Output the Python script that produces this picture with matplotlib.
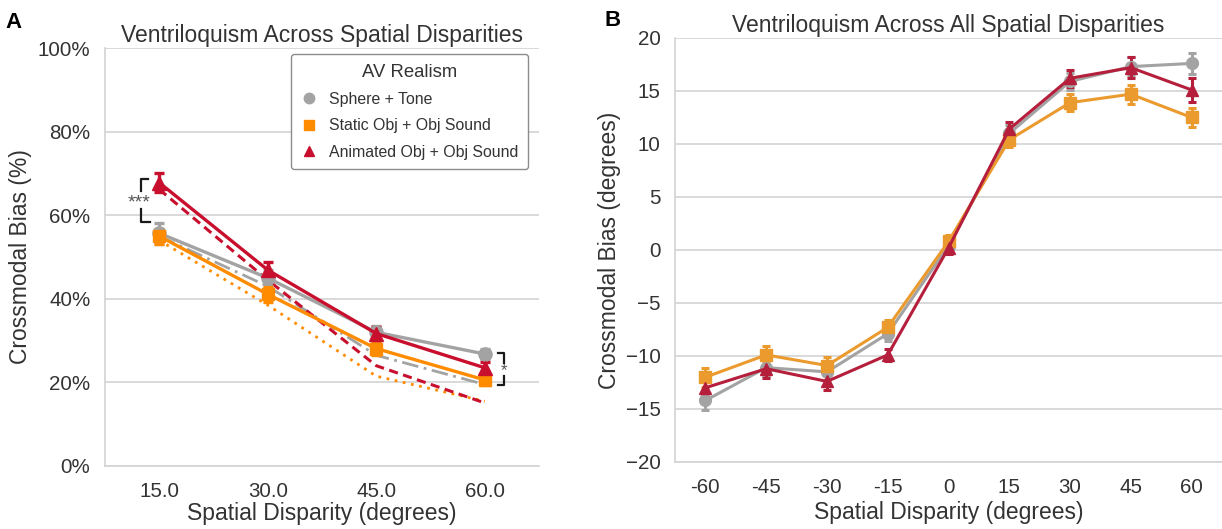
import matplotlib
matplotlib.use("Agg")
import matplotlib.pyplot as plt
from matplotlib.lines import Line2D

plt.rcParams['font.family'] = ['Liberation Sans', 'DejaVu Sans']
plt.rcParams['text.color'] = '#333333'
plt.rcParams['axes.labelcolor'] = '#333333'
plt.rcParams['xtick.color'] = '#333333'
plt.rcParams['ytick.color'] = '#333333'

# ---- panel A: bias (%) at the four absolute disparities
disp_a = [15.0, 30.0, 45.0, 60.0]
tick_labels_a = ['15.0', '30.0', '45.0', '60.0']
sphere_a = [55.7, 45.0, 32.0, 26.8]
static_a = [55.0, 41.1, 28.1, 20.6]
animated_a = [67.8, 46.9, 31.7, 23.5]
sphere_err_a = [2.5, 2.0, 1.5, 1.2]
static_err_a = [1.8, 1.8, 1.5, 1.2]
animated_err_a = [2.2, 2.0, 1.6, 1.5]
# model predictions (broken lines)
sphere_model_a = [55.0, 43.0, 26.5, 19.5]
static_model_a = [54.0, 38.5, 21.5, 15.5]
animated_model_a = [66.2, 44.5, 24.0, 15.1]

# significance brackets: (x, y_top, y_bottom, label)
sig_left = (12.5, 68.7, 58.4, '***')
sig_right = (62.7, 27.0, 19.4, '*')

# ---- panel B: bias (degrees) at all signed disparities
disp_b = [-60, -45, -30, -15, 0, 15, 30, 45, 60]
tick_labels_b = ['-60', '-45', '-30', '-15', '0', '15', '30', '45', '60']
sphere_b = [-14.2, -11.1, -11.5, -7.9, 0.4, 11.0, 15.9, 17.3, 17.6]
static_b = [-12.0, -9.9, -10.9, -7.3, 0.8, 10.4, 13.9, 14.7, 12.5]
animated_b = [-13.0, -11.2, -12.4, -9.9, 0.2, 11.4, 16.2, 17.2, 15.1]
sphere_err_b = [0.9, 0.8, 0.8, 0.7, 0.6, 0.8, 0.8, 0.9, 1.0]
static_err_b = [0.9, 0.8, 0.8, 0.7, 0.6, 0.7, 0.8, 0.9, 0.9]
animated_err_b = [0.9, 0.9, 0.8, 0.6, 0.6, 0.7, 0.8, 1.0, 1.1]

labels = ['Sphere + Tone', 'Static Obj + Obj Sound', 'Animated Obj + Obj Sound']
markers = ['o', 's', '^']
colors_a = ['#a3a3a3', '#ff8c00', '#c8102e']
colors_b = ['#a3a3a3', '#eb9a2e', '#b51f3c']

grid_col = '#d3d3d3'

fig = plt.figure(figsize=(12.22, 5.29), dpi=100)
ax_a = fig.add_axes([0.0859, 0.1191, 0.3552, 0.790])
ax_b = fig.add_axes([0.5524, 0.1267, 0.4476, 0.8015])


def style(ax):
    for side in ['top', 'right']:
        ax.spines[side].set_visible(False)
    for side in ['left', 'bottom']:
        ax.spines[side].set_color(grid_col)
        ax.spines[side].set_linewidth(1.2)
    ax.yaxis.grid(True, color=grid_col, linewidth=1.2)
    ax.set_axisbelow(True)
    ax.tick_params(axis='both', length=0, labelsize=14.8)
    ax.tick_params(axis='x', pad=11.5)
    ax.tick_params(axis='y', pad=10.5)


# panel A
style(ax_a)
ax_a.plot(disp_a, sphere_model_a, color=colors_a[0], lw=2.0, ls=(0, (6, 2, 1, 2)), zorder=2)
ax_a.plot(disp_a, static_model_a, color=colors_a[1], lw=2.0, ls=(0, (1, 2)), zorder=2)
ax_a.plot(disp_a, animated_model_a, color=colors_a[2], lw=2.2, ls=(0, (3, 1.8)), zorder=2)

series_a = [(sphere_a, sphere_err_a), (static_a, static_err_a), (animated_a, animated_err_a)]
for (vals, errs), m, c, ms in zip(series_a, markers, colors_a, [9.5, 9, 9.5]):
    ax_a.errorbar(disp_a, vals, yerr=errs, color=c, marker=m, markersize=ms,
                  lw=2.4, elinewidth=2.4, capsize=3.5, capthick=2.4, zorder=3)

ax_a.set_xlim(7.5, 67.5)
ax_a.set_ylim(0, 100)
ax_a.set_xticks(disp_a)
ax_a.set_xticklabels(tick_labels_a)
ax_a.set_yticks(range(0, 101, 20))
ax_a.set_yticklabels(['%d%%' % v for v in range(0, 101, 20)])
ax_a.set_title('Ventriloquism Across Spatial Disparities', fontsize=16.5, pad=4.5)
ax_a.set_xlabel('Spatial Disparity (degrees)', fontsize=16.5)
ax_a.set_ylabel('Crossmodal Bias (%)', fontsize=16.5)
ax_a.xaxis.set_label_coords(0.5, -0.085)
ax_a.yaxis.set_label_coords(-0.167, 0.5)

# brackets
x, top, bot, txt = sig_left
mid = (top + bot) / 2
ax_a.plot([x + 0.9, x, x], [top, top, mid + 2.3], color='#1a1a1a', lw=1.6, clip_on=False)
ax_a.plot([x + 1.2, x, x], [bot, bot, mid - 2.0], color='#1a1a1a', lw=1.6, clip_on=False)
ax_a.text(x - 0.3, mid - 0.6, txt, fontsize=14, color='#555555', ha='center', va='center')

x, top, bot, txt = sig_right
mid = (top + bot) / 2
ax_a.plot([x - 0.9, x, x], [top, top, mid + 1.5], color='#1a1a1a', lw=1.6, clip_on=False)
ax_a.plot([x - 0.9, x, x], [bot, bot, mid - 1.6], color='#1a1a1a', lw=1.6, clip_on=False)
ax_a.text(x - 0.1, mid - 0.3, txt, fontsize=12, color='#555555', ha='center', va='center')

handles = [Line2D([], [], ls='none', marker=m, color=c, markersize=ms)
           for m, c, ms in zip(markers, colors_a, [7.5, 7, 7.5])]
leg = ax_a.legend(handles, labels, title='AV Realism', loc='upper right',
                  bbox_to_anchor=(0.9747, 0.9856), borderaxespad=0, fontsize=11.4,
                  title_fontsize=13.3, frameon=True, fancybox=True, framealpha=1,
                  edgecolor='#8c8c8c', borderpad=0.6, handlelength=1.0,
                  handletextpad=0.8, labelspacing=0.72)
leg.get_frame().set_linewidth(1.0)
leg.get_title().set_color('#333333')

# panel B
style(ax_b)
series_b = [(sphere_b, sphere_err_b), (static_b, static_err_b), (animated_b, animated_err_b)]
for (vals, errs), m, c, ms in zip(series_b, markers, colors_b, [8.5, 8, 8.5]):
    ax_b.errorbar(disp_b, vals, yerr=errs, color=c, marker=m, markersize=ms,
                  lw=2.2, elinewidth=2.2, capsize=3, capthick=2.2, zorder=3)

ax_b.set_xlim(-67.5, 67.5)
ax_b.set_ylim(-20, 20)
ax_b.set_xticks(disp_b)
ax_b.set_xticklabels(tick_labels_b)
ax_b.set_yticks(range(-20, 21, 5))
ax_b.set_title('Ventriloquism Across All Spatial Disparities', fontsize=16.5, pad=4.5)
ax_b.set_xlabel('Spatial Disparity (degrees)', fontsize=16.5)
ax_b.set_ylabel('Crossmodal Bias (degrees)', fontsize=16.5)
ax_b.xaxis.set_label_coords(0.5, -0.092)
ax_b.yaxis.set_label_coords(-0.098, 0.5)

fig.text(14 / 1222, 1 - 23 / 529, 'A', fontsize=16, fontweight='bold', color='black',
         ha='center', va='center')
fig.text(613 / 1222, 1 - 20 / 529, 'B', fontsize=16, fontweight='bold', color='black',
         ha='center', va='center')

fig.savefig('out.png', dpi=100)
